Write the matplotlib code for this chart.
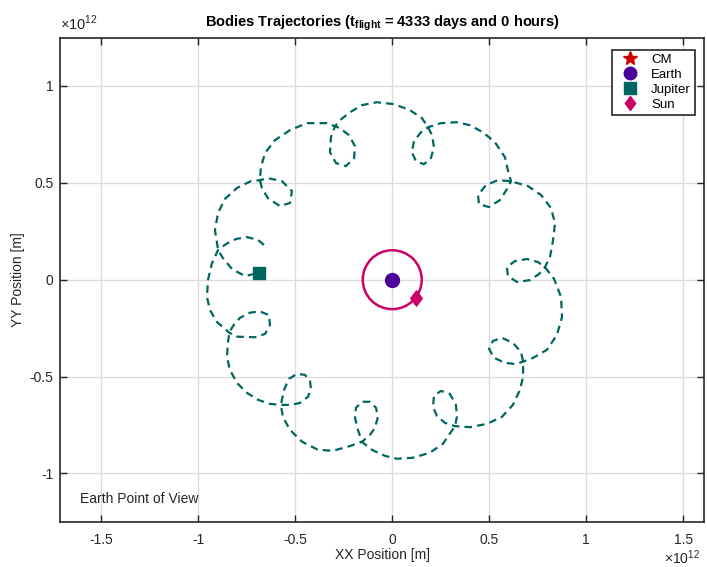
import numpy as np
import matplotlib
matplotlib.use("Agg")
import matplotlib.pyplot as plt
from matplotlib.patches import Circle
from matplotlib.lines import Line2D
from matplotlib.path import Path

plt.rcParams['font.family'] = ['Liberation Sans', 'DejaVu Sans']
plt.rcParams['mathtext.fontset'] = 'custom'
plt.rcParams['mathtext.rm'] = 'Liberation Sans'
plt.rcParams['mathtext.bf'] = 'Liberation Sans:bold'
plt.rcParams['axes.unicode_minus'] = False

# Jupiter path seen from Earth (units of 1e12 m)
jup_x = [-0.661, -0.692, -0.749, -0.806, -0.857, -0.898,
         -0.929, -0.950, -0.955, -0.940, -0.904, -0.840,
         -0.806, -0.708, -0.656, -0.630, -0.636, -0.682, -0.733, -0.785, -0.821, -0.840,
         -0.847, -0.852, -0.837, -0.801, -0.749, -0.692, -0.631, -0.574,
         -0.522, -0.476, -0.435, -0.419, -0.424, -0.450, -0.491, -0.533, -0.558, -0.574,
         -0.564, -0.527, -0.465, -0.383, -0.306, -0.229, -0.156,
         -0.115, -0.089, -0.074, -0.084, -0.115, -0.156, -0.187, -0.192, -0.177, -0.156,
         -0.105, -0.038, 0.024, 0.107, 0.194, 0.261, 0.323,
         0.334, 0.328, 0.297, 0.251, 0.215, 0.210, 0.230, 0.272, 0.323,
         0.401, 0.488, 0.565, 0.622, 0.658, 0.674, 0.675,
         0.663, 0.622, 0.565, 0.519, 0.499, 0.524, 0.581, 0.633, 0.675,
         0.725, 0.797, 0.849, 0.875, 0.870, 0.834, 0.787,
         0.751, 0.694, 0.632, 0.591, 0.596, 0.643, 0.710, 0.756, 0.787,
         0.813, 0.828, 0.839, 0.818, 0.767, 0.700, 0.612,
         0.545, 0.483, 0.442, 0.447, 0.498, 0.555, 0.591, 0.612,
         0.596, 0.581, 0.529, 0.467, 0.401, 0.334, 0.251, 0.184,
         0.148, 0.112, 0.101, 0.122, 0.163, 0.199, 0.215, 0.205, 0.184,
         0.153, 0.091, 0.009, -0.079, -0.156, -0.218, -0.270, -0.295,
         -0.316, -0.321, -0.290, -0.239, -0.197, -0.192, -0.223, -0.270, -0.295,
         -0.337, -0.440, -0.527, -0.605, -0.656, -0.677, -0.682,
         -0.672, -0.641, -0.579, -0.527, -0.517, -0.569, -0.641, -0.682,
         -0.728, -0.801, -0.863, -0.898, -0.914, -0.904, -0.898,
         -0.873, -0.826, -0.759, -0.687]
jup_y = [0.179, 0.205, 0.220, 0.210, 0.184, 0.153,
         0.086, -0.002, -0.089, -0.156, -0.218, -0.273,
         -0.294, -0.297, -0.280, -0.234, -0.182, -0.164, -0.170, -0.197, -0.239, -0.273,
         -0.326, -0.398, -0.465, -0.532, -0.584, -0.620, -0.641, -0.646,
         -0.646, -0.636, -0.605, -0.564, -0.522, -0.491, -0.486, -0.512, -0.569, -0.646,
         -0.708, -0.775, -0.836, -0.878, -0.883, -0.862, -0.837,
         -0.801, -0.764, -0.708, -0.661, -0.630, -0.630, -0.661, -0.713, -0.775, -0.837,
         -0.878, -0.909, -0.924, -0.919, -0.893, -0.847, -0.756,
         -0.705, -0.646, -0.589, -0.574, -0.599, -0.656, -0.703, -0.739, -0.756,
         -0.761, -0.744, -0.708, -0.646, -0.569, -0.502, -0.423,
         -0.372, -0.326, -0.300, -0.316, -0.357, -0.403, -0.429, -0.435, -0.423,
         -0.404, -0.362, -0.285, -0.192, -0.089, 0.004, 0.065,
         0.091, 0.107, 0.096, 0.065, 0.019, -0.012, -0.002, 0.029, 0.065,
         0.117, 0.199, 0.292, 0.370, 0.437, 0.483, 0.508,
         0.514, 0.488, 0.437, 0.390, 0.375, 0.411, 0.467, 0.508,
         0.565, 0.632, 0.710, 0.761, 0.797, 0.813, 0.808, 0.787,
         0.761, 0.715, 0.658, 0.612, 0.596, 0.627, 0.684, 0.746, 0.787,
         0.834, 0.875, 0.906, 0.916, 0.901, 0.864, 0.823, 0.792,
         0.736, 0.658, 0.602, 0.586, 0.627, 0.689, 0.746, 0.782, 0.792,
         0.808, 0.808, 0.772, 0.720, 0.653, 0.581, 0.514,
         0.473, 0.421, 0.380, 0.396, 0.457, 0.509, 0.524, 0.514,
         0.509, 0.473, 0.416, 0.344, 0.256, 0.194, 0.153,
         0.112, 0.055, 0.019, 0.035]

sun_orbit_r = 0.152          # Sun's path around Earth
earth_pos = (0.0, 0.0)
sun_pos = (0.122, -0.093)
cm_pos = (0.122, -0.093)
jup_pos = (jup_x[-1], jup_y[-1])

c_jup = '#00665f'
c_sun = '#cc0066'
c_earth = '#4c0099'
c_cm = '#cc0000'

# matlab style diamond (a bit taller than wide)
diamond = Path([(0, 1), (0.75, 0), (0, -1), (-0.75, 0), (0, 1)],
               [Path.MOVETO, Path.LINETO, Path.LINETO, Path.LINETO, Path.CLOSEPOLY])

fig = plt.figure(figsize=(7.07, 5.67), dpi=100)
ax = fig.add_axes([0.0853, 0.0799, 0.9105, 0.8536])

ax.plot(jup_x, jup_y, color=c_jup, lw=1.6, dashes=(3.4, 2.3), zorder=3)
ax.add_patch(Circle(earth_pos, sun_orbit_r, fill=False, ec=c_sun, lw=1.8, zorder=3))

ax.plot(*cm_pos, marker='*', ls='none', color=c_cm, ms=5, zorder=4)
ax.plot(*earth_pos, marker='o', ls='none', color=c_earth, ms=10, zorder=5)
ax.plot(*jup_pos, marker='s', ls='none', color=c_jup, ms=8, zorder=5)
ax.plot(*sun_pos, marker=diamond, ls='none', color=c_sun, ms=11, zorder=5)

ax.set_xlim(-1.711, 1.607)
ax.set_ylim(-1.249, 1.249)
ax.set_xticks([-1.5, -1, -0.5, 0, 0.5, 1, 1.5])
ax.set_xticklabels(['-1.5', '-1', '-0.5', '0', '0.5', '1', '1.5'])
ax.set_yticks([-1, -0.5, 0, 0.5, 1])
ax.set_yticklabels(['-1', '-0.5', '0', '0.5', '1'])
ax.tick_params(direction='in', length=5, width=1, top=True, right=True,
               labelsize=10, colors='#262626')
ax.tick_params(axis='x', pad=8)
ax.tick_params(axis='y', pad=5)
ax.grid(True, color='#dcdcdc', lw=1.0)
ax.set_axisbelow(True)
for s in ax.spines.values():
    s.set_linewidth(1.2)
    s.set_color('#262626')

ax.set_xlabel('XX Position [m]', fontsize=10, color='#262626', labelpad=1)
ax.set_ylabel('YY Position [m]', fontsize=10, color='#262626', labelpad=3)
ax.set_title(r'Bodies Trajectories (t$_{\mathbf{flight}}$ = 4333 days and 0 hours)',
             fontsize=10.5, fontweight='bold', pad=8)

ax.text(0.0, 1.01, r'$\times$10$^{12}$', transform=ax.transAxes, fontsize=10.5,
        color='#262626', ha='left', va='bottom')
ax.text(0.993, -0.056, r'$\times$10$^{12}$', transform=ax.transAxes, fontsize=10,
        color='#262626', ha='right', va='top')
ax.text(0.031, 0.047, 'Earth Point of View', transform=ax.transAxes, fontsize=10,
        color='#262626', ha='left', va='center')

handles = [Line2D([], [], marker='*', ls='none', color=c_cm, ms=10),
           Line2D([], [], marker='o', ls='none', color=c_earth, ms=9),
           Line2D([], [], marker='s', ls='none', color=c_jup, ms=8),
           Line2D([], [], marker=diamond, ls='none', color=c_sun, ms=10)]
leg = ax.legend(handles, ['CM', 'Earth', 'Jupiter', 'Sun'], loc='upper right',
                bbox_to_anchor=(0.986, 0.975), borderaxespad=0, fontsize=9.5,
                fancybox=False, edgecolor='#262626', framealpha=1,
                handlelength=2.2, handletextpad=0.5, labelspacing=0.2,
                borderpad=0.3)
leg.get_frame().set_linewidth(1.2)

fig.savefig('out.png', dpi=100)
